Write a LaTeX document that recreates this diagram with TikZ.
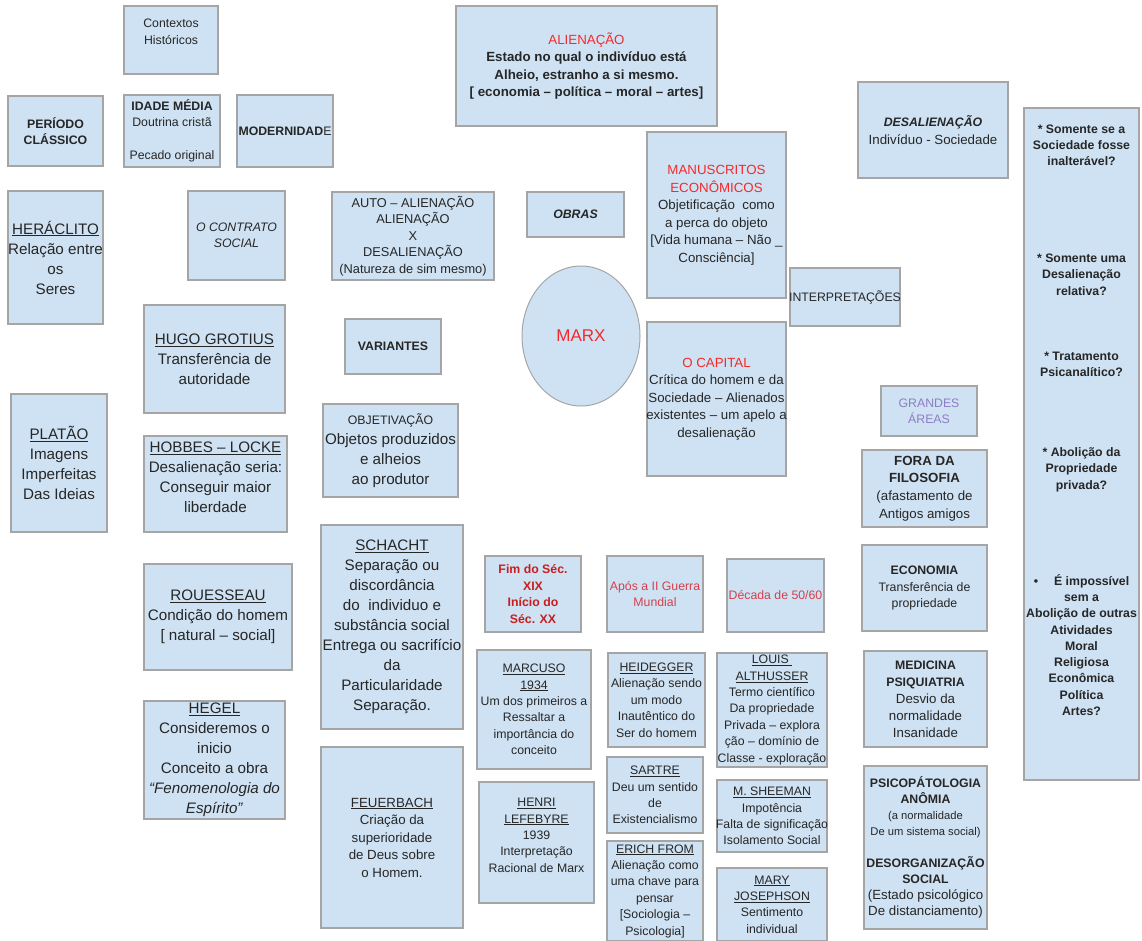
\documentclass[tikz,border=0pt]{standalone}
\usepackage{fontspec}
\setmainfont{Liberation Sans}
\usetikzlibrary{shapes.geometric}
\definecolor{boxfill}{HTML}{CFE2F3}
\definecolor{boxline}{HTML}{A5A5A5}
\definecolor{ink}{HTML}{262626}
\definecolor{alert}{HTML}{F42A2A}
\definecolor{darkalert}{HTML}{C81E1E}
\definecolor{softalert}{HTML}{D5404A}
\definecolor{areas}{HTML}{8E7CC3}
\newcommand{\sizeS}{\fontsize{12.3}{16.4}\selectfont}
\newcommand{\sizeM}{\fontsize{13.3}{17.5}\selectfont}
\newcommand{\sizeL}{\fontsize{15.2}{20}\selectfont}
\newcommand{\alerttxt}[1]{\textcolor{alert}{#1}}
\tikzset{
    box/.style={draw=boxline, line width=1.2pt, fill=boxfill, align=center,
        inner sep=0pt, text=ink, font=\sizeS},
    wh/.style 2 args={minimum width=#1, minimum height=#2}
}
\begin{document}
\begin{tikzpicture}[x=1pt, y=-1pt]
\useasboundingbox (0,0) rectangle (1142,941);
% contextos historicos
\node[box, wh={94}{68}] (contextos) at (171,40) {Contextos\\Históricos\\~};
\node[box, wh={95}{70}] (classico) at (55.5,131) {\textbf{PERÍODO}\\\textbf{CLÁSSICO}};
\node[box, wh={96}{72}] (media) at (172,131) {\textbf{IDADE MÉDIA}\\Doutrina cristã\\~\\Pecado original};
\node[box, wh={96}{72}] (moderna) at (285,131) {\textbf{MODERNIDAD}E};
\node[box, wh={95}{133}, font=\sizeL] (heraclito) at (55.5,257.5) {\underline{HERÁCLITO}\\\makebox[0pt]{Relação entre}\\os\\Seres};
\node[box, wh={97}{89}] (contrato) at (236.5,235.5) {\textit{O CONTRATO}\\\textit{SOCIAL}};
\node[box, wh={96}{138}, font=\sizeL] (platao) at (59,463) {\underline{PLATÃO}\\Imagens\\Imperfeitas\\Das Ideias};
\node[box, wh={141}{108}, font=\sizeL] (grotius) at (214.5,359) {\underline{HUGO GROTIUS}\\Transferência de\\autoridade};
\node[box, wh={143}{96}, font=\sizeL] (hobbes) at (215.5,484) {\underline{HOBBES – LOCKE}\\Desalienação seria:\\Conseguir maior\\liberdade\\[-6pt]~};
\node[box, wh={148}{106}, font=\sizeL] (rousseau) at (218,617) {\underline{ROUESSEAU}\\Condição do homem\\{[} natural – social]};
\node[box, wh={141}{118}, font=\sizeL] (hegel) at (214.5,760) {\underline{HEGEL}\\Consideremos o\\inicio\\Conceito a obra\\\textit{“Fenomenologia do}\\\textit{Espírito”}};
% alienacao e variantes
\node[box, wh={261}{120}, font=\sizeM] (alienacao) at (586.5,66) {\alerttxt{ALIENAÇÃO}\\\textbf{Estado no qual o indivíduo está}\\\textbf{Alheio, estranho a si mesmo.}\\\textbf{{[} economia – política – moral – artes]}};
\node[box, wh={162}{88}, font=\fontsize{12.8}{16.5}\selectfont] (auto) at (413,236) {AUTO – ALIENAÇÃO\\ALIENAÇÃO\\X\\DESALIENAÇÃO\\(Natureza de sim mesmo)};
\node[box, wh={97}{45}] (obras) at (575.5,214.5) {\textbf{\textit{OBRAS}}};
\node[box, wh={96}{55}] (variantes) at (393,346.5) {\textbf{VARIANTES}};
\node[box, wh={135}{93}, font=\sizeL] (objetivacao) at (390.5,450.5) {{\sizeS OBJETIVAÇÃO}\\Objetos produzidos\\e alheios\\ao produtor};
\node[box, wh={142}{204}, font=\sizeL] (schacht) at (392,627) {\underline{SCHACHT}\\Separação ou\\discordância\\do\ \ individuo e\\substância social\\Entrega ou sacrifício\\da\\Particularidade\\Separação.};
\node[box, wh={142}{181}, font=\sizeM] (feuerbach) at (392,837.5) {\underline{FEUERBACH}\\Criação da\\superioridade\\de Deus sobre\\o Homem.};
% marx e obras
\node[box, ellipse, line width=1pt, wh={118}{140}] (marx) at (581,336) {\fontsize{17}{20}\selectfont\alerttxt{MARX}};
\node[box, wh={139}{166}, font=\sizeM] (manuscritos) at (716.5,215) {\alerttxt{MANUSCRITOS}\\\alerttxt{ECONÔMICOS}\\Objetificação\ \ como\\a perca do objeto\\{[}Vida humana – Não \_\\Consciência]};
\node[box, wh={139}{154}, font=\sizeM] (capital) at (716.5,399) {\alerttxt{O CAPITAL}\\Crítica do homem e da\\Sociedade – Alienados\\\makebox[0pt]{existentes – um apelo a}\\desalienação};
\node[box, wh={110}{58}] (interpretacoes) at (845,297) {\makebox[0pt]{INTERPRETAÇÕES}};
\node[box, wh={150}{96}, font=\sizeM] (desalienacao) at (933,130) {{\sizeS\textbf{\textit{DESALIENAÇÃO}}}\\Indivíduo - Sociedade};
% interpretacoes
\node[box, wh={96}{76}, text=darkalert] (fimsec) at (533,594) {\textbf{Fim do Séc.}\\\textbf{XIX}\\\textbf{Início do}\\\textbf{Séc. XX}};
\node[box, wh={96}{76}, text=softalert] (guerra) at (655,594) {Após a II Guerra\\Mundial};
\node[box, wh={97}{73}, text=softalert] (decada) at (775.5,595.5) {\makebox[0pt]{Década de 50/60}};
\node[box, wh={114}{119}] (marcuso) at (534,709.5) {\underline{MARCUSO}\\\underline{1934}\\Um dos primeiros a\\Ressaltar a\\importância do\\conceito};
\node[box, wh={115}{121}] (lefebyre) at (536.5,842.5) {\underline{HENRI}\\\underline{LEFEBYRE}\\1939\\Interpretação\\Racional de Marx\\[-2pt]~};
\node[box, wh={97}{94}] (heidegger) at (656.5,700) {\underline{HEIDEGGER}\\Alienação sendo\\um modo\\Inautêntico do\\Ser do homem};
\node[box, wh={96}{76}] (sartre) at (655,795) {\underline{SARTRE}\\Deu um sentido\\de\\Existencialismo};
\node[box, wh={96}{100}] (fromm) at (655,891) {\underline{ERICH FROM}\\Alienação como\\uma chave para\\pensar\\{[}Sociologia –\\Psicologia]};
\node[box, wh={110}{114}] (althusser) at (772,710) {\underline{LOUIS }\\\underline{ALTHUSSER}\\Termo científico\\Da propriedade\\Privada – explora\\ção – domínio de\\\makebox[0pt]{Classe - exploração}};
\node[box, wh={110}{72}] (sheeman) at (772,816) {\underline{M. SHEEMAN}\\Impotência\\\makebox[0pt]{Falta de significação}\\Isolamento Social};
\node[box, wh={110}{73}] (josephson) at (772,904.5) {\underline{MARY}\\\underline{JOSEPHSON}\\Sentimento\\individual};
% grandes areas
\node[box, wh={96}{50}, text=areas] (areas) at (929,411) {GRANDES\\ÁREAS};
\node[box, wh={125}{77}, font=\fontsize{13.3}{17.7}\selectfont] (fora) at (924.5,488.5) {\textbf{FORA DA}\\\textbf{FILOSOFIA}\\(afastamento de\\Antigos amigos};
\node[box, wh={125}{86}] (economia) at (924.5,588) {\textbf{ECONOMIA}\\Transferência de\\propriedade};
\node[box, wh={123}{96}, font=\fontsize{13.3}{17}\selectfont] (medicina) at (925.5,699) {{\sizeS\textbf{MEDICINA}}\\{\sizeS\textbf{PSIQUIATRIA}}\\Desvio da\\normalidade\\Insanidade};
\node[box, wh={123}{163}, font=\fontsize{12.3}{16}\selectfont] (psico) at (925.5,847.5) {\textbf{PSICOPÁTOLOGIA}\\\textbf{ANÔMIA}\\{\fontsize{11.2}{16}\selectfont (a normalidade}\\{\fontsize{11.2}{16}\selectfont De um sistema social)}\\~\\\textbf{DESORGANIZAÇÃO}\\\textbf{SOCIAL}\\{\fontsize{13.3}{16}\selectfont (Estado psicológico}\\{\fontsize{13.3}{16}\selectfont De distanciamento)}};
% perguntas
\node[box, wh={115}{672}, font=\fontsize{12.3}{16.3}\selectfont\bfseries] (perguntas) at (1081.5,444) {* Somente se a\\Sociedade fosse\\inalterável?\\[80.7pt]* Somente uma\\Desalienação\\relativa?\\[48.7pt]* Tratamento\\Psicanalítico?\\[63.7pt]* Abolição da\\Propriedade\\privada?\\[79.7pt]•\hspace{1.3em}É impossível\\sem a\\\makebox[0pt]{Abolição de outras}\\Atividades\\Moral\\Religiosa\\Econômica\\Política\\Artes?\\[31.7pt]~};
\end{tikzpicture}
\end{document}
